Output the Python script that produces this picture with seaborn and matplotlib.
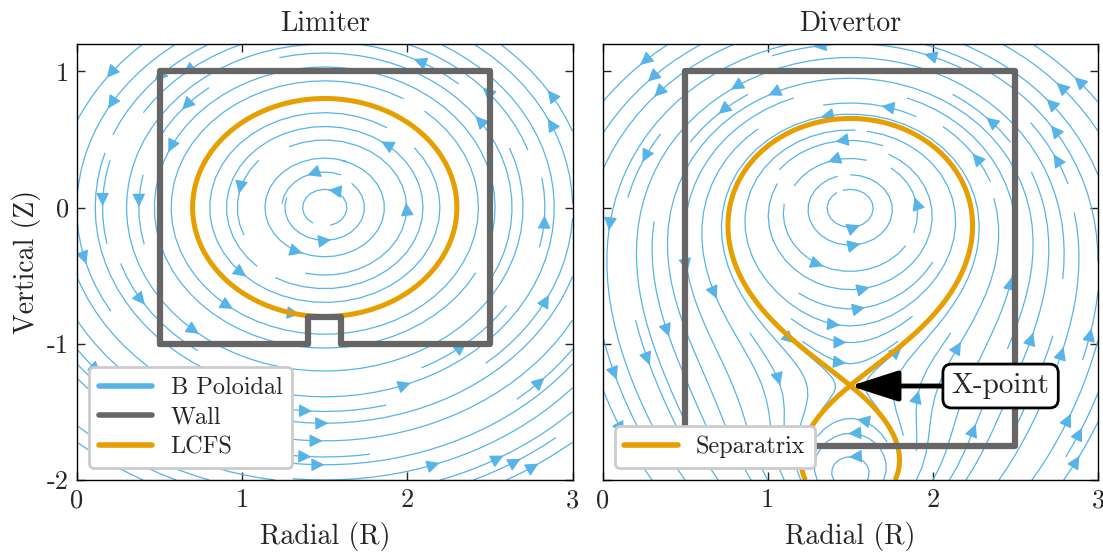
import numpy as np
import matplotlib
matplotlib.use("Agg")
import matplotlib.pyplot as plt
from matplotlib.lines import Line2D
import seaborn as sns

# ---- chart data -------------------------------------------------------
panel_titles = ["Limiter", "Divertor"]
x_ticks = [0, 1, 2, 3]
x_tick_labels = ["0", "1", "2", "3"]
y_ticks = [-2, -1, 0, 1]
y_tick_labels = ["-2", "-1", "0", "1"]

# first wall outlines (R, Z)
limiter_wall_r = [0.5, 0.5, 2.5, 2.5, 1.6, 1.6, 1.4, 1.4, 0.5]
limiter_wall_z = [-1.0, 1.0, 1.0, -1.0, -1.0, -0.8, -0.8, -1.0, -1.0]
divertor_wall_r = [0.5, 0.5, 2.5, 2.5, 0.5]
divertor_wall_z = [-1.75, 1.0, 1.0, -1.75, -1.75]

# current filaments: plasma centre and divertor coil (R, Z, relative current)
plasma_r, plasma_z, plasma_i = 1.5, 0.0, 1.0
coil_r, coil_z, coil_i = 1.5, -1.96, 0.5

# reference points
lcfs_radius = 0.8
xpoint_r, xpoint_z = 1.5, -1.31
xlabel_r, xlabel_z = 2.41, -1.31

# ---- styling ----------------------------------------------------------
BLUE = "#56B4E9"
GREY = "#666666"
ORANGE = "#E69F00"

sns.set_theme(style="ticks")
plt.rcParams.update({
    "font.family": ["cmr10", "DejaVu Serif"],
    "font.size": 19,
    "axes.titlesize": 20,
    "axes.labelsize": 20,
    "xtick.labelsize": 19,
    "ytick.labelsize": 19,
    "legend.fontsize": 17.5,
    "xtick.direction": "in",
    "ytick.direction": "in",
    "xtick.top": True,
    "ytick.right": True,
    "axes.edgecolor": "black",
    "axes.linewidth": 1.0,
    "axes.unicode_minus": False,
    "contour.negative_linestyle": "solid",
})

# ---- field on a regular grid -----------------------------------------
r = np.linspace(0, 3, 300)
z = np.linspace(-2, 1.2, 320)
R, Z = np.meshgrid(r, z)


def filament_flux(R, Z, rc, zc, cur):
    return cur * 0.5 * np.log((R - rc) ** 2 + (Z - zc) ** 2 + 1e-12)


def field_from_flux(psi, core_mask):
    dpsi_dz, dpsi_dr = np.gradient(psi, z, r)
    br = np.ma.masked_where(core_mask, -dpsi_dz)
    bz = np.ma.masked_where(core_mask, dpsi_dr)
    return br, bz


psi_lim = filament_flux(R, Z, plasma_r, plasma_z, plasma_i)
psi_div = psi_lim + filament_flux(R, Z, coil_r, coil_z, coil_i)

# keep streamlines out of the tiny loops right around each filament
core_plasma = np.hypot(R - plasma_r, Z - plasma_z) < 0.12
core_coil = np.hypot(R - coil_r, Z - coil_z) < 0.08

psi_lcfs = plasma_i * np.log(lcfs_radius)
psi_sep = (plasma_i * np.log(abs(xpoint_z - plasma_z))
           + coil_i * np.log(abs(xpoint_z - coil_z)))

fig, axes = plt.subplots(1, 2, figsize=(11.03, 5.52), dpi=100, sharey=True)
fig.subplots_adjust(left=0.0698, right=0.9955, bottom=0.1304, top=0.9203,
                    wspace=0.0605)

cases = [
    (psi_lim, psi_lcfs, limiter_wall_r, limiter_wall_z, core_plasma),
    (psi_div, psi_sep, divertor_wall_r, divertor_wall_z,
     core_plasma | core_coil),
]

for ax, title, (psi, level, wr, wz, core) in zip(axes, panel_titles, cases):
    br, bz = field_from_flux(psi, core)
    ax.streamplot(r, z, br, bz, color=BLUE, linewidth=0.9, density=1.05,
                  arrowsize=2.0, minlength=0.15, zorder=1)
    ax.contour(R, Z, psi, levels=[level], colors=ORANGE, linewidths=3.6,
               linestyles="solid", zorder=2)
    sns.lineplot(x=wr, y=wz, sort=False, estimator=None, ax=ax, color=GREY,
                 linewidth=4.5, zorder=3, legend=False,
                 solid_joinstyle="round")
    ax.set_xlim(0, 3)
    ax.set_ylim(-2, 1.2)
    ax.set_xticks(x_ticks)
    ax.set_xticklabels(x_tick_labels)
    ax.set_yticks(y_ticks)
    ax.set_yticklabels(y_tick_labels)
    ax.tick_params(length=6, width=1, pad=6)
    ax.set_title(title, pad=9)
    ax.set_xlabel("Radial (R)", labelpad=7)
    for s in ax.spines.values():
        s.set_visible(True)

axes[0].set_ylabel("Vertical (Z)", labelpad=4)
axes[1].tick_params(labelleft=False)

legend_kw = dict(loc="lower left", frameon=True, fancybox=True, framealpha=1,
                 edgecolor="#cccccc", borderpad=0.4, labelspacing=0.3,
                 handlelength=2.2, handletextpad=0.75, borderaxespad=0.5)
h1 = [Line2D([], [], color=BLUE, lw=4), Line2D([], [], color=GREY, lw=4),
      Line2D([], [], color=ORANGE, lw=4)]
leg = axes[0].legend(h1, ["B Poloidal", "Wall", "LCFS"], **legend_kw)
leg.get_frame().set_linewidth(2)
leg.set_zorder(5)
h2 = [Line2D([], [], color=ORANGE, lw=4)]
leg = axes[1].legend(h2, ["Separatrix"], **legend_kw)
leg.get_frame().set_linewidth(2)
leg.set_zorder(5)

axes[1].annotate(
    "X-point", xy=(xpoint_r, xpoint_z), xytext=(xlabel_r, xlabel_z),
    ha="center", va="center", zorder=6, fontsize=21,
    bbox=dict(boxstyle="round,pad=0.3", fc="white", ec="black", lw=2),
    arrowprops=dict(arrowstyle="-|>,head_length=1.4,head_width=0.45",
                    color="black", lw=3.5, shrinkA=0, shrinkB=0),
)

fig.savefig("out.png", dpi=100)
